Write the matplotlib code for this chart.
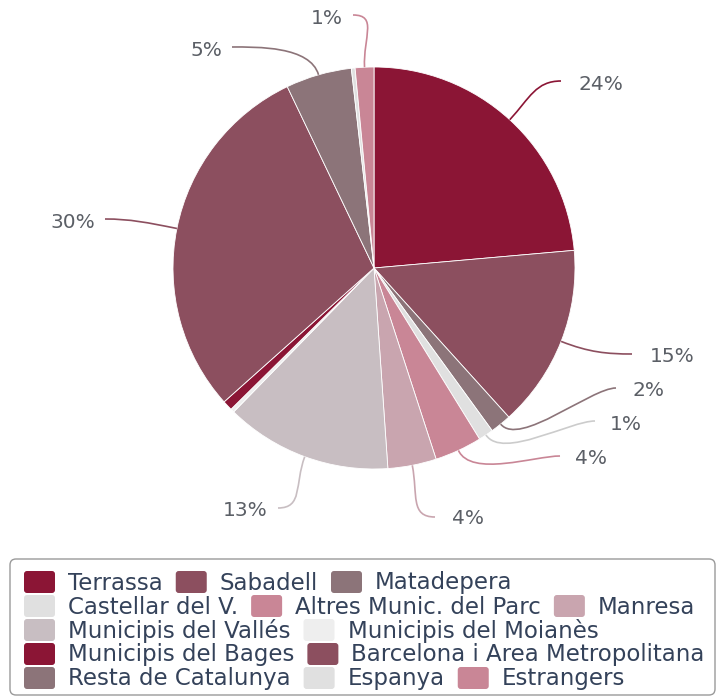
import matplotlib
matplotlib.use("Agg")
import matplotlib.pyplot as plt
import numpy as np
from matplotlib.path import Path
from matplotlib.patches import PathPatch, FancyBboxPatch

# dades (percentatges llegits del gràfic)
categories = [
    "Terrassa", "Sabadell", "Matadepera",
    "Castellar del V.", "Altres Munic. del Parc", "Manresa",
    "Municipis del Vallés", "Municipis del Moianès",
    "Municipis del Bages", "Barcelona i Area Metropolitana",
    "Resta de Catalunya", "Espanya", "Estrangers",
]
valors = [23.6, 14.7, 1.7, 1.2, 3.8, 3.9, 13.4, 0.3, 0.8, 29.5, 5.3, 0.3, 1.5]
etiquetes = ["24%", "15%", "2%", "1%", "4%", "4%", "13%", None, None,
             "30%", "5%", None, "1%"]

colors = ["#8b1535", "#8c4f5f", "#8c7479", "#e0e0e0", "#c98696", "#c9a5af",
          "#c8bec2", "#eeeeee", "#8b1535", "#8c4f5f", "#8c7479", "#e0e0e0",
          "#c98696"]

# files de la llegenda (disposició en flux)
files_llegenda = [[0, 1, 2], [3, 4, 5], [6, 7], [8, 9], [10, 11, 12]]

# =========================
# DISPOSICIÓ (píxels, y des de dalt)
# =========================
W, H = 721, 698
CX, CY, R = 374, 268, 201

# final de la línia guia, posició del text i alineació
guies = {
    0: (561, 81, 579, 84, "left"),
    1: (632, 354, 650, 356, "left"),
    2: (616, 388, 633, 391, "left"),
    3: (595, 421, 610, 424, "left"),
    4: (560, 456, 575, 458, "left"),
    5: (435, 517, 452, 519, "left"),
    6: (278, 508, 268, 511, "right"),
    9: (105, 219, 95, 222, "right"),
    10: (232, 47, 222, 50, "right"),
    12: (353, 15, 343, 18, "right"),
}

fig = plt.figure(figsize=(W / 100, H / 100), dpi=100)
ax = fig.add_axes([0, 0, 1, 1])


def py(y):
    return H - y


wedges, _ = ax.pie(
    valors,
    colors=colors,
    startangle=90,
    counterclock=False,
    center=(CX, py(CY)),
    radius=R,
    wedgeprops=dict(edgecolor="white", linewidth=0.6),
    frame=True,
)
ax.set_xlim(0, W)
ax.set_ylim(0, H)
ax.set_aspect("equal")
ax.axis("off")

cor_text = "#5b5f66"

for i, w in enumerate(wedges):
    if etiquetes[i] is None:
        continue
    ang = np.deg2rad((w.theta1 + w.theta2) / 2)
    p0 = np.array([CX + R * np.cos(ang), py(CY) + R * np.sin(ang)])
    ex, ey, tx, ty, ha = guies[i]
    p3 = np.array([ex, py(ey)])
    dirx = 1 if ha == "left" else -1
    p1 = p0 + 30 * np.array([np.cos(ang), np.sin(ang)])
    p2 = p3 - np.array([dirx * 25, 0])
    cami = Path([p0, p1, p2, p3], [Path.MOVETO, Path.CURVE4, Path.CURVE4, Path.CURVE4])
    cl = colors[i] if colors[i] not in ("#e0e0e0", "#eeeeee") else "#cccccc"
    ax.add_patch(PathPatch(cami, fill=False, edgecolor=cl, linewidth=1.2))
    ax.text(tx, py(ty), etiquetes[i], ha=ha, va="center",
            fontsize=14.5, color=cor_text)

# =========================
# LLEGENDA
# =========================
ax.add_patch(FancyBboxPatch((10, py(695)), 705, 136,
                            boxstyle="round,pad=0,rounding_size=6",
                            facecolor="white", edgecolor="#9a9a9a", linewidth=1))

renderer = fig.canvas.get_renderer()
files_y = [582, 606, 630, 654, 678]
amp, alt = 31, 22

for fila, yy in zip(files_llegenda, files_y):
    x = 24
    for idx in fila:
        ax.add_patch(FancyBboxPatch((x, py(yy) - alt / 2), amp, alt,
                                    boxstyle="round,pad=0,rounding_size=3",
                                    facecolor=colors[idx], edgecolor="none"))
        t = ax.text(x + amp + 13, py(yy) - 1, categories[idx], ha="left",
                    va="center", fontsize=16.5, color="#34425a")
        bb = t.get_window_extent(renderer=renderer)
        x = x + amp + 13 + bb.width + 13

fig.savefig("out.png", dpi=100)
